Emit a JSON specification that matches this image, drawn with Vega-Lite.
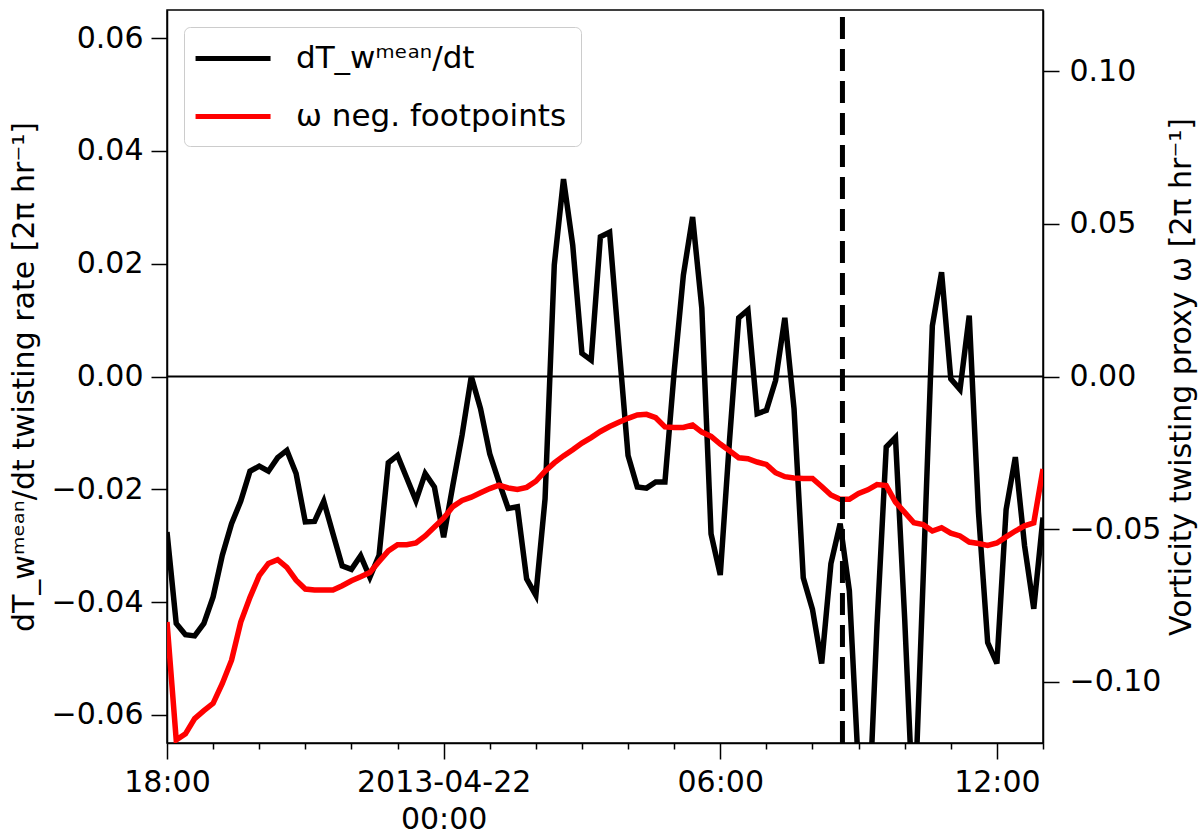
{
  "$schema": "https://vega.github.io/schema/vega-lite/v6.json",
  "width": 876,
  "height": 733,
  "autosize": {"type": "none"},
  "padding": {"left": 167, "top": 10, "right": 157, "bottom": 93},
  "background": "white",
  "config": {
    "font": "DejaVu Sans",
    "view": {"stroke": "black", "strokeWidth": 1.5},
    "axis": {
      "grid": false,
      "domainColor": "black",
      "domainWidth": 1.5,
      "tickColor": "black",
      "tickWidth": 1.5,
      "labelColor": "black",
      "titleColor": "black",
      "labelFont": "DejaVu Sans",
      "titleFont": "DejaVu Sans",
      "labelFontSize": 30,
      "titleFontSize": 30,
      "titleFontWeight": "normal",
      "tickSize": 16,
      "labelPadding": 8
    },
    "legend": {
      "orient": "top-left",
      "offset": 17,
      "symbolType": "M-1.33,0H3.67",
      "symbolSize": 900,
      "symbolStrokeWidth": 5,
      "labelFontSize": 31,
      "labelFont": "DejaVu Sans",
      "labelColor": "black",
      "labelOffset": 63,
      "labelLimit": 600,
      "strokeColor": "#cccccc",
      "fillColor": "white",
      "cornerRadius": 6,
      "padding": 14,
      "rowPadding": 25
    }
  },
  "datasets": {
    "d": [
      {"t": "2013-04-21T18:00:00Z", "rate": -0.0276, "omega": -0.0804},
      {"t": "2013-04-21T18:12:00Z", "rate": -0.0438, "omega": -0.119},
      {"t": "2013-04-21T18:24:00Z", "rate": -0.0458, "omega": -0.117},
      {"t": "2013-04-21T18:36:00Z", "rate": -0.0460, "omega": -0.112},
      {"t": "2013-04-21T18:48:00Z", "rate": -0.0438, "omega": -0.1094},
      {"t": "2013-04-21T19:00:00Z", "rate": -0.0391, "omega": -0.107},
      {"t": "2013-04-21T19:12:00Z", "rate": -0.0317, "omega": -0.1005},
      {"t": "2013-04-21T19:24:00Z", "rate": -0.0261, "omega": -0.0929},
      {"t": "2013-04-21T19:36:00Z", "rate": -0.0221, "omega": -0.0804},
      {"t": "2013-04-21T19:48:00Z", "rate": -0.0168, "omega": -0.0723},
      {"t": "2013-04-21T20:00:00Z", "rate": -0.0159, "omega": -0.0652},
      {"t": "2013-04-21T20:12:00Z", "rate": -0.0168, "omega": -0.0612},
      {"t": "2013-04-21T20:24:00Z", "rate": -0.0144, "omega": -0.0600},
      {"t": "2013-04-21T20:36:00Z", "rate": -0.0131, "omega": -0.0625},
      {"t": "2013-04-21T20:48:00Z", "rate": -0.0172, "omega": -0.0667},
      {"t": "2013-04-21T21:00:00Z", "rate": -0.0258, "omega": -0.0696},
      {"t": "2013-04-21T21:12:00Z", "rate": -0.0257, "omega": -0.0699},
      {"t": "2013-04-21T21:24:00Z", "rate": -0.0221, "omega": -0.0699},
      {"t": "2013-04-21T21:36:00Z", "rate": -0.0279, "omega": -0.0699},
      {"t": "2013-04-21T21:48:00Z", "rate": -0.0336, "omega": -0.0685},
      {"t": "2013-04-21T22:00:00Z", "rate": -0.0342, "omega": -0.0669},
      {"t": "2013-04-21T22:12:00Z", "rate": -0.0318, "omega": -0.0656},
      {"t": "2013-04-21T22:24:00Z", "rate": -0.0356, "omega": -0.0642},
      {"t": "2013-04-21T22:36:00Z", "rate": -0.0317, "omega": -0.0606},
      {"t": "2013-04-21T22:48:00Z", "rate": -0.0153, "omega": -0.0571},
      {"t": "2013-04-21T23:00:00Z", "rate": -0.0140, "omega": -0.0551},
      {"t": "2013-04-21T23:12:00Z", "rate": -0.0180, "omega": -0.0551},
      {"t": "2013-04-21T23:24:00Z", "rate": -0.0220, "omega": -0.0545},
      {"t": "2013-04-21T23:36:00Z", "rate": -0.0172, "omega": -0.0522},
      {"t": "2013-04-21T23:48:00Z", "rate": -0.0196, "omega": -0.0493},
      {"t": "2013-04-22T00:00:00Z", "rate": -0.0285, "omega": -0.0464},
      {"t": "2013-04-22T00:12:00Z", "rate": -0.0193, "omega": -0.0426},
      {"t": "2013-04-22T00:24:00Z", "rate": -0.0104, "omega": -0.0406},
      {"t": "2013-04-22T00:36:00Z", "rate": 0.0000, "omega": -0.0395},
      {"t": "2013-04-22T00:48:00Z", "rate": -0.0057, "omega": -0.0381},
      {"t": "2013-04-22T01:00:00Z", "rate": -0.0137, "omega": -0.0367},
      {"t": "2013-04-22T01:12:00Z", "rate": -0.0187, "omega": -0.0356},
      {"t": "2013-04-22T01:24:00Z", "rate": -0.0234, "omega": -0.0365},
      {"t": "2013-04-22T01:36:00Z", "rate": -0.0231, "omega": -0.0370},
      {"t": "2013-04-22T01:48:00Z", "rate": -0.0359, "omega": -0.0363},
      {"t": "2013-04-22T02:00:00Z", "rate": -0.0388, "omega": -0.0343},
      {"t": "2013-04-22T02:12:00Z", "rate": -0.0217, "omega": -0.0310},
      {"t": "2013-04-22T02:24:00Z", "rate": 0.0198, "omega": -0.0283},
      {"t": "2013-04-22T02:36:00Z", "rate": 0.0350, "omega": -0.0260},
      {"t": "2013-04-22T02:48:00Z", "rate": 0.0233, "omega": -0.0240},
      {"t": "2013-04-22T03:00:00Z", "rate": 0.0041, "omega": -0.0218},
      {"t": "2013-04-22T03:12:00Z", "rate": 0.0029, "omega": -0.0200},
      {"t": "2013-04-22T03:24:00Z", "rate": 0.0248, "omega": -0.0180},
      {"t": "2013-04-22T03:36:00Z", "rate": 0.0256, "omega": -0.0164},
      {"t": "2013-04-22T03:48:00Z", "rate": 0.0056, "omega": -0.0150},
      {"t": "2013-04-22T04:00:00Z", "rate": -0.0140, "omega": -0.0137},
      {"t": "2013-04-22T04:12:00Z", "rate": -0.0196, "omega": -0.0126},
      {"t": "2013-04-22T04:24:00Z", "rate": -0.0198, "omega": -0.0124},
      {"t": "2013-04-22T04:36:00Z", "rate": -0.0187, "omega": -0.0135},
      {"t": "2013-04-22T04:48:00Z", "rate": -0.0187, "omega": -0.0165},
      {"t": "2013-04-22T05:00:00Z", "rate": 0.0008, "omega": -0.0167},
      {"t": "2013-04-22T05:12:00Z", "rate": 0.0180, "omega": -0.0167},
      {"t": "2013-04-22T05:24:00Z", "rate": 0.0283, "omega": -0.0159},
      {"t": "2013-04-22T05:36:00Z", "rate": 0.0121, "omega": -0.0182},
      {"t": "2013-04-22T05:48:00Z", "rate": -0.0279, "omega": -0.0196},
      {"t": "2013-04-22T06:00:00Z", "rate": -0.0352, "omega": -0.0221},
      {"t": "2013-04-22T06:12:00Z", "rate": -0.0114, "omega": -0.0243},
      {"t": "2013-04-22T06:24:00Z", "rate": 0.0104, "omega": -0.0266},
      {"t": "2013-04-22T06:36:00Z", "rate": 0.0118, "omega": -0.0269},
      {"t": "2013-04-22T06:48:00Z", "rate": -0.0066, "omega": -0.0280},
      {"t": "2013-04-22T07:00:00Z", "rate": -0.0060, "omega": -0.0288},
      {"t": "2013-04-22T07:12:00Z", "rate": -0.0007, "omega": -0.0315},
      {"t": "2013-04-22T07:24:00Z", "rate": 0.0104, "omega": -0.0328},
      {"t": "2013-04-22T07:36:00Z", "rate": -0.0057, "omega": -0.0332},
      {"t": "2013-04-22T07:48:00Z", "rate": -0.0357, "omega": -0.0334},
      {"t": "2013-04-22T08:00:00Z", "rate": -0.0413, "omega": -0.0334},
      {"t": "2013-04-22T08:12:00Z", "rate": -0.0509, "omega": -0.0360},
      {"t": "2013-04-22T08:24:00Z", "rate": -0.0332, "omega": -0.0388},
      {"t": "2013-04-22T08:36:00Z", "rate": -0.0261, "omega": -0.0402},
      {"t": "2013-04-22T08:48:00Z", "rate": -0.0380, "omega": -0.0402},
      {"t": "2013-04-22T09:00:00Z", "rate": -0.0700, "omega": -0.0383},
      {"t": "2013-04-22T09:12:00Z", "rate": -0.0820, "omega": -0.0371},
      {"t": "2013-04-22T09:24:00Z", "rate": -0.0440, "omega": -0.0354},
      {"t": "2013-04-22T09:36:00Z", "rate": -0.0125, "omega": -0.0357},
      {"t": "2013-04-22T09:48:00Z", "rate": -0.0108, "omega": -0.0411},
      {"t": "2013-04-22T10:00:00Z", "rate": -0.0430, "omega": -0.0445},
      {"t": "2013-04-22T10:12:00Z", "rate": -0.0800, "omega": -0.0479},
      {"t": "2013-04-22T10:24:00Z", "rate": -0.0360, "omega": -0.0485},
      {"t": "2013-04-22T10:36:00Z", "rate": 0.0090, "omega": -0.0506},
      {"t": "2013-04-22T10:48:00Z", "rate": 0.0185, "omega": -0.0495},
      {"t": "2013-04-22T11:00:00Z", "rate": -0.0004, "omega": -0.0513},
      {"t": "2013-04-22T11:12:00Z", "rate": -0.0023, "omega": -0.0522},
      {"t": "2013-04-22T11:24:00Z", "rate": 0.0108, "omega": -0.0542},
      {"t": "2013-04-22T11:36:00Z", "rate": -0.0240, "omega": -0.0547},
      {"t": "2013-04-22T11:48:00Z", "rate": -0.0472, "omega": -0.0553},
      {"t": "2013-04-22T12:00:00Z", "rate": -0.0509, "omega": -0.0545},
      {"t": "2013-04-22T12:12:00Z", "rate": -0.0236, "omega": -0.0525},
      {"t": "2013-04-22T12:24:00Z", "rate": -0.0143, "omega": -0.0506},
      {"t": "2013-04-22T12:36:00Z", "rate": -0.0300, "omega": -0.0489},
      {"t": "2013-04-22T12:48:00Z", "rate": -0.0412, "omega": -0.0479},
      {"t": "2013-04-22T13:00:00Z", "rate": -0.0250, "omega": -0.0303}
    ],
    "events": [
      {"event": "2013-04-22T08:39:00Z"}
    ]
  },
  "data": {"name": "d"},
  "layer": [
    {
      "layer": [
        {
          "mark": {"type": "line", "color": "black", "strokeWidth": 5.5, "clip": true},
          "encoding": {
            "x": {
              "field": "t",
              "type": "temporal",
              "scale": {
                "type": "utc",
                "domain": [
                  {"year": 2013, "month": 4, "date": 21, "hours": 18, "utc": true},
                  {"year": 2013, "month": 4, "date": 22, "hours": 13, "utc": true}
                ]
              },
              "axis": {
                "title": null,
                "values": [
                  {"year": 2013, "month": 4, "date": 21, "hours": 18, "utc": true},
                  {"year": 2013, "month": 4, "date": 21, "hours": 19, "utc": true},
                  {"year": 2013, "month": 4, "date": 21, "hours": 20, "utc": true},
                  {"year": 2013, "month": 4, "date": 21, "hours": 21, "utc": true},
                  {"year": 2013, "month": 4, "date": 21, "hours": 22, "utc": true},
                  {"year": 2013, "month": 4, "date": 21, "hours": 23, "utc": true},
                  {"year": 2013, "month": 4, "date": 22, "hours": 0, "utc": true},
                  {"year": 2013, "month": 4, "date": 22, "hours": 1, "utc": true},
                  {"year": 2013, "month": 4, "date": 22, "hours": 2, "utc": true},
                  {"year": 2013, "month": 4, "date": 22, "hours": 3, "utc": true},
                  {"year": 2013, "month": 4, "date": 22, "hours": 4, "utc": true},
                  {"year": 2013, "month": 4, "date": 22, "hours": 5, "utc": true},
                  {"year": 2013, "month": 4, "date": 22, "hours": 6, "utc": true},
                  {"year": 2013, "month": 4, "date": 22, "hours": 7, "utc": true},
                  {"year": 2013, "month": 4, "date": 22, "hours": 8, "utc": true},
                  {"year": 2013, "month": 4, "date": 22, "hours": 9, "utc": true},
                  {"year": 2013, "month": 4, "date": 22, "hours": 10, "utc": true},
                  {"year": 2013, "month": 4, "date": 22, "hours": 11, "utc": true},
                  {"year": 2013, "month": 4, "date": 22, "hours": 12, "utc": true},
                  {"year": 2013, "month": 4, "date": 22, "hours": 13, "utc": true}
                ],
                "labelExpr": "utchours(datum.value) === 0 ? ['2013-04-22', '00:00'] : (utchours(datum.value) % 6 === 0 ? utcFormat(datum.value, '%H:%M') : '')",
                "tickSize": {"condition": {"test": "utchours(datum.value) % 6 === 0", "value": 16}, "value": 6},
                "labelOverlap": false,
                "labelFlush": false,
                "labelPadding": 8,
                "labelLineHeight": 37,
                "labelBaseline": "top"
              }
            },
            "y": {
              "field": "rate",
              "type": "quantitative",
              "scale": {"domain": [-0.065, 0.065], "nice": false, "zero": false},
              "axis": {
                "title": "dT_wᵐᵉᵃⁿ/dt twisting rate [2π hr⁻¹]",
                "values": [-0.06, -0.04, -0.02, 0, 0.02, 0.04, 0.06],
                "format": ".2f",
                "titlePadding": 12
              }
            },
            "color": {
              "datum": "dT_wᵐᵉᵃⁿ/dt",
              "scale": {"domain": ["dT_wᵐᵉᵃⁿ/dt", "ω neg. footpoints"], "range": ["black", "red"]},
              "legend": {"title": null}
            }
          }
        },
        {
          "data": {"values": [{"ref": "zero"}]},
          "mark": {"type": "rule", "color": "black", "strokeWidth": 2},
          "encoding": {"y": {"datum": 0, "type": "quantitative"}}
        }
      ]
    },
    {
      "mark": {"type": "line", "color": "red", "strokeWidth": 5.5, "clip": true},
      "encoding": {
        "x": {"field": "t", "type": "temporal"},
        "y": {
          "field": "omega",
          "type": "quantitative",
          "scale": {"domain": [-0.12, 0.12], "nice": false, "zero": false},
          "axis": {
            "orient": "right",
            "title": "Vorticity twisting proxy ω [2π hr⁻¹]",
            "values": [-0.1, -0.05, 0, 0.05, 0.1],
            "format": ".2f",
            "labelPadding": 10,
            "titleAngle": 270,
            "titleBaseline": "top",
            "titlePadding": 6
          }
        },
        "color": {"datum": "ω neg. footpoints"}
      }
    },
    {
      "data": {"name": "events"},
      "mark": {"type": "rule", "color": "black", "strokeWidth": 5, "strokeDash": [22, 10], "strokeDashOffset": 25},
      "encoding": {
        "x": {"field": "event", "type": "temporal"}
      }
    }
  ],
  "resolve": {"scale": {"y": "independent"}}
}
